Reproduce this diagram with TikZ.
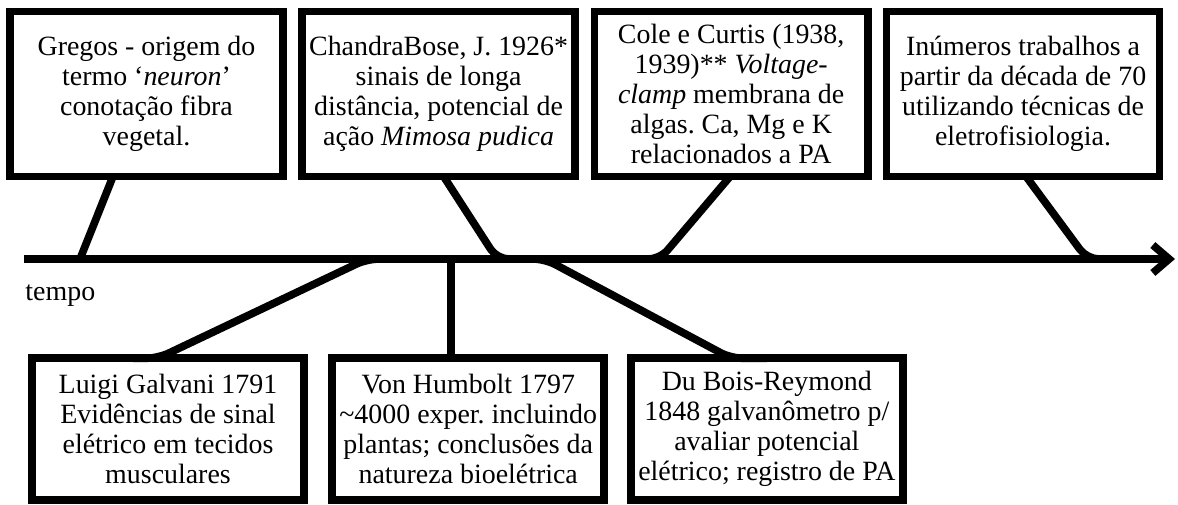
\documentclass[tikz,border=0pt]{standalone}
\usepackage{fontspec}
\setmainfont{Liberation Serif}
\usepackage{tikz}
\usetikzlibrary{positioning, calc, arrows.meta}
\frenchspacing
\tikzset{event/.style={draw, rectangle, line width=3.3pt, align=center, inner sep=2pt, font=\fontsize{12}{12.9}\selectfont}}
\tikzset{upper/.append style={event, minimum width=117.4pt, minimum height=71pt}}
\tikzset{lower/.append style={event, minimum width=117pt, minimum height=61pt}}
\tikzset{link/.style={line width=3.3pt, rounded corners=5pt}}

\begin{document}
\begin{tikzpicture}[x=0.43pt, y=-0.43pt]
      \useasboundingbox (0,0) rectangle (1178,504);

      % eventos acima da linha do tempo
      \node[upper] (gregos) at (146.5,94) {Gregos - origem do\\ termo ‘\emph{neuron}’\\ conotação fibra\\ vegetal.};
      \node[upper] (bose) [right=4.9pt of gregos] {ChandraBose, J. 1926*\\ sinais de longa\\ distância, potencial de\\ ação \emph{Mimosa pudica}};
      \node[upper] (cole) [right=5.1pt of bose] {Cole e Curtis (1938,\\ 1939)** \emph{Voltage-}\\ \emph{clamp} membrana de\\ algas. Ca, Mg e K\\ relacionados a PA};
      \node[upper] (inumeros) [right=4.8pt of cole] {Inúmeros trabalhos a\\ partir da década de 70\\ utilizando técnicas de\\ eletrofisiologia.};

      % eventos abaixo da linha do tempo
      \node[lower] (galvani) at (168,429) {Luigi Galvani 1791\\ Evidências de sinal\\ elétrico em tecidos\\ musculares};
      \node[lower] (humbolt) [right=8.8pt of galvani] {Von Humbolt 1797\\ \textasciitilde4000 exper. incluindo\\ plantas; conclusões da\\ natureza bioelétrica};
      \node[lower] (dubois) [right=8.1pt of humbolt] {Du Bois-Reymond\\ 1848 galvanômetro p/\\ avaliar potencial\\ elétrico; registro de PA};

      % linha do tempo
      \coordinate (t0) at (24,259);
      \coordinate (t1) at (1175,259);
      \draw[link, -{Straight Barb[length=7pt, width=12pt]}] (t0) -- (t1);
      \node[anchor=base west, font=\fontsize{12}{12.9}\selectfont, inner sep=0pt] (tempo) at (25,300) {tempo};

      \coordinate (a1) at (80,259);
      \coordinate (a2) at (497,259);
      \coordinate (a2r) at (522,259);
      \coordinate (a3) at (660,259);
      \coordinate (a3l) at (635,259);
      \coordinate (a4) at (1087,259);
      \coordinate (a4r) at (1112,259);
      \coordinate (a5) at (367,259);
      \coordinate (a5r) at (395,259);
      \coordinate (a6) at (451,259);
      \coordinate (a7) at (545,259);
      \coordinate (a7l) at (518,259);

      \draw[link] ($(gregos.south)+(-33.5,-4)$) -- (a1);
      \draw[link] ($(bose.south)+(5,-4)$) -- (a2) -- (a2r);
      \draw[link] ($(cole.south)+(-1,-4)$) -- (a3) -- (a3l);
      \draw[link] ($(inumeros.south)+(3,-4)$) -- (a4) -- (a4r);

      \draw[link] ($(galvani.north)+(-35,4)$) -- ($(galvani.north)+(-10,4)$) -- (a5) -- (a5r);
      \draw[link] (a6) -- ($(humbolt.north -| a6)+(0,4)$);
      \draw[link] (a7l) -- (a7) -- ($(dubois.north)+(-36,4)$) -- ($(dubois.north)+(0,4)$);

    \end{tikzpicture}
\end{document}
